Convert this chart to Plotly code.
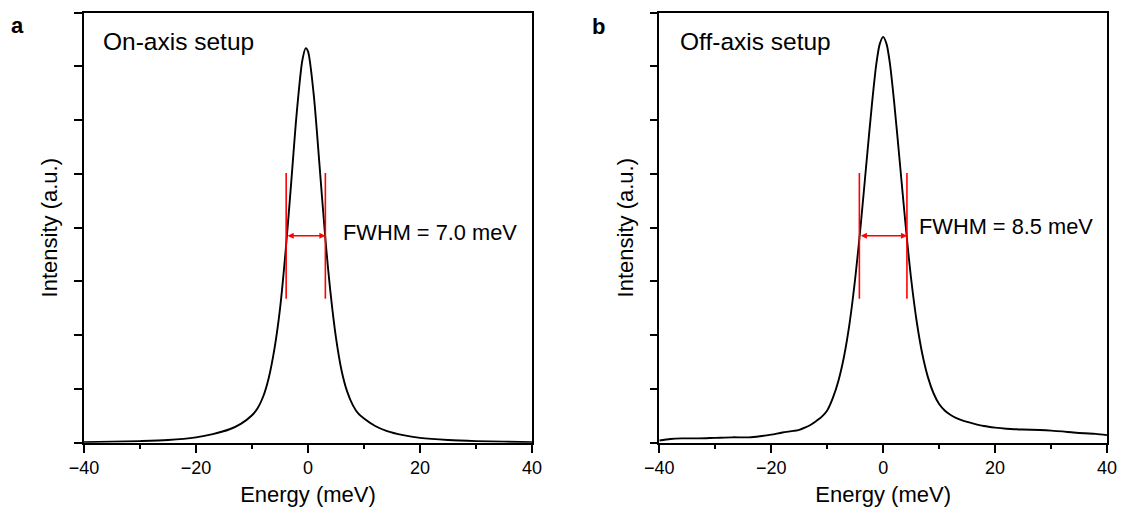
import plotly.graph_objects as go

# ---- data ----
on_energy = [-40, -35, -30, -25, -20, -17, -14, -12, -10, -9, -8, -7, -6, -5, -4, -3, -2, -1, -0.4, 0,
             1, 2, 3, 4, 5, 6, 7, 8, 9, 10, 12, 14, 17, 20, 25, 30, 35, 40]
on_intensity = [0.01, 0.02, 0.03, 0.05, 0.10, 0.16, 0.25, 0.35, 0.51, 0.64, 0.86, 1.21, 1.74, 2.49, 3.56,
                4.84, 6.15, 7.12, 7.34, 7.28, 6.50, 5.24, 3.92, 2.81, 1.95, 1.34, 0.95, 0.70, 0.54, 0.45,
                0.31, 0.22, 0.14, 0.09, 0.05, 0.03, 0.02, 0.01]

off_energy = [-40, -38, -36, -33, -30, -27, -24, -22, -20, -18, -16, -15, -14, -13, -12, -11, -10, -9, -8,
              -7, -6, -5, -4, -3, -2, -1.2, -0.6, 0, 0.6, 1.2, 2, 3, 4, 5, 6, 7, 8, 9, 10, 11, 12, 13, 14,
              16, 18, 20, 22, 25, 28, 30, 32, 34, 36, 38, 40]
off_intensity = [0.04, 0.07, 0.08, 0.08, 0.09, 0.10, 0.10, 0.12, 0.15, 0.19, 0.22, 0.24, 0.28, 0.33, 0.40,
                 0.48, 0.60, 0.83, 1.15, 1.60, 2.22, 3.05, 4.06, 5.19, 6.30, 7.06, 7.42, 7.55, 7.42, 7.06,
                 6.30, 5.19, 4.06, 3.05, 2.25, 1.65, 1.22, 0.92, 0.72, 0.60, 0.52, 0.46, 0.42, 0.36, 0.31,
                 0.28, 0.26, 0.245, 0.235, 0.225, 0.21, 0.19, 0.175, 0.165, 0.14]

on_fwhm_edges = [-3.9, 3.1]      # meV, FWHM = 7.0 meV
off_fwhm_edges = [-4.25, 4.25]   # meV, FWHM = 8.5 meV
fwhm_level = 3.85
marker_span = [2.68, 5.02]

panel_titles = ["On-axis setup", "Off-axis setup"]
fwhm_labels = ["FWHM = 7.0 meV", "FWHM = 8.5 meV"]
panel_letters = ["a", "b"]
x_ticks = [-40, -20, 0, 20, 40]
y_ticks = [0, 1, 2, 3, 4, 5, 6, 7, 8]

FONT = "Liberation Sans, Arial, Helvetica, sans-serif"
W, H = 1121, 513

fig = go.Figure()
fig.add_trace(go.Scatter(x=on_energy, y=on_intensity, mode="lines", xaxis="x", yaxis="y",
                         line=dict(color="black", width=1.9, shape="spline", smoothing=0.8),
                         showlegend=False))
fig.add_trace(go.Scatter(x=off_energy, y=off_intensity, mode="lines", xaxis="x2", yaxis="y2",
                         line=dict(color="black", width=1.9, shape="spline", smoothing=0.8),
                         showlegend=False))

# red FWHM markers
for xa, ya, edges in [("x", "y", on_fwhm_edges), ("x2", "y2", off_fwhm_edges)]:
    for e in edges:
        fig.add_trace(go.Scatter(x=[e, e], y=marker_span, mode="lines", xaxis=xa, yaxis=ya,
                                 line=dict(color="#ff0000", width=1.6), showlegend=False,
                                 hoverinfo="skip"))
    fig.add_annotation(x=edges[1], y=fwhm_level, ax=edges[0], ay=fwhm_level,
                       xref=xa, yref=ya, axref=xa, ayref=ya, text="",
                       showarrow=True, arrowhead=2, arrowside="end+start", arrowsize=0.8,
                       arrowwidth=1.5, arrowcolor="#ff0000", standoff=0, startstandoff=0)

# texts
fig.add_annotation(x=-36.9, y=7.46, xref="x", yref="y", text=panel_titles[0], showarrow=False,
                   xanchor="left", yanchor="middle", font=dict(family=FONT, size=24.5, color="black"))
fig.add_annotation(x=-36.7, y=7.47, xref="x2", yref="y2", text=panel_titles[1], showarrow=False,
                   xanchor="left", yanchor="middle", font=dict(family=FONT, size=24.5, color="black"))
fig.add_annotation(x=5.9, y=3.92, xref="x", yref="y", text=fwhm_labels[0], showarrow=False,
                   xanchor="left", yanchor="middle", font=dict(family=FONT, size=21.8, color="black"))
fig.add_annotation(x=6.1, y=4.02, xref="x2", yref="y2", text=fwhm_labels[1], showarrow=False,
                   xanchor="left", yanchor="middle", font=dict(family=FONT, size=21.8, color="black"))
fig.add_annotation(x=17.5 / W, y=1 - 25 / H, xref="paper", yref="paper", text="<b>" + panel_letters[0] + "</b>",
                   showarrow=False, xanchor="center", yanchor="middle",
                   font=dict(family=FONT, size=22, color="black"))
fig.add_annotation(x=598.5 / W, y=1 - 27 / H, xref="paper", yref="paper", text="<b>" + panel_letters[1] + "</b>",
                   showarrow=False, xanchor="center", yanchor="middle",
                   font=dict(family=FONT, size=22, color="black"))

xax = dict(range=[-40, 40], tickmode="array", tickvals=x_ticks, ticks="outside", ticklen=8,
           tickwidth=1.5, tickcolor="black", showline=True, linecolor="black", linewidth=1.6,
           mirror=True, showgrid=False, zeroline=False,
           minor=dict(dtick=10, ticklen=4, ticks="outside", tickwidth=1.5, tickcolor="black", showgrid=False),
           tickfont=dict(family=FONT, size=18, color="black"),
           title=dict(text="Energy (meV)", font=dict(family=FONT, size=22, color="black"), standoff=10),
           automargin=False)
yax = dict(range=[0, 8], tickmode="array", tickvals=y_ticks, ticks="outside", ticklen=8, tickwidth=1.5,
           tickcolor="black", showticklabels=False, showline=True, linecolor="black", linewidth=1.6,
           mirror=True, showgrid=False, zeroline=False,
           title=dict(text="Intensity (a.u.)", font=dict(family=FONT, size=22, color="black"), standoff=10),
           automargin=False)

yd = [1 - 442.7 / H, 1 - 12.7 / H]
fig.update_layout(
    width=W, height=H,
    margin=dict(l=0, r=0, t=0, b=0),
    paper_bgcolor="white", plot_bgcolor="white",
    xaxis=dict(xax, domain=[84 / W, 532 / W], anchor="y"),
    yaxis=dict(yax, domain=yd, anchor="x"),
    xaxis2=dict(xax, domain=[659.3 / W, 1107 / W], anchor="y2"),
    yaxis2=dict(yax, domain=yd, anchor="x2"),
    showlegend=False,
)

fig.write_html("out.html")
